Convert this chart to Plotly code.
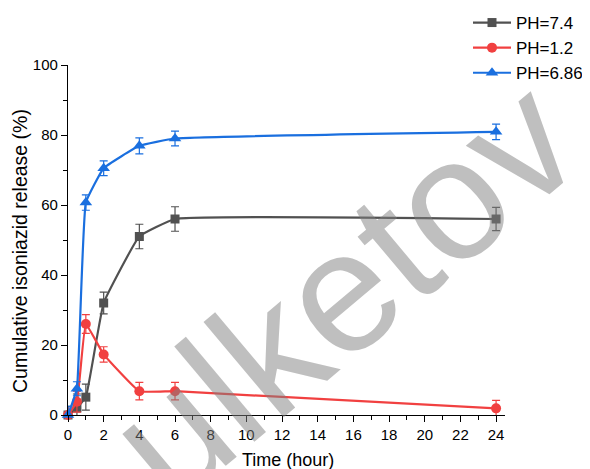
import plotly.graph_objects as go

time_h = [0, 0.5, 1, 2, 4, 6, 24]

ph74 = [0, 2, 5.1, 32, 51, 56, 56]
ph74_err = [2.5, 4, 3.7, 3.1, 3.5, 3.5, 3.3]

ph12 = [0, 3.8, 26, 17.3, 6.8, 6.8, 1.9]
ph12_err = [2, 3, 2.7, 2.2, 2.5, 2.5, 2.3]

ph686 = [0, 7.5, 60.7, 70.5, 76.9, 79, 80.9]
ph686_err = [2.5, 2, 2.2, 2.1, 2.3, 2.1, 2.2]

series_names = ["PH=7.4", "PH=1.2", "PH=6.86"]
x_ticks = list(range(0, 25, 2))
y_ticks = [0, 20, 40, 60, 80, 100]

FONT = "Arial, Liberation Sans, sans-serif"

styles = [
    ("#515151", "square", 9),
    ("#F14040", "circle", 10),
    ("#1A6FDF", "triangle-up", 11),
]

fig = go.Figure()
for name, ys, errs, (col, sym, sz) in zip(series_names, [ph74, ph12, ph686],
                                           [ph74_err, ph12_err, ph686_err], styles):
    fig.add_trace(go.Scatter(
        x=time_h, y=ys, name=name, mode="lines+markers",
        line=dict(color=col, width=2.2, shape="spline", smoothing=0.3),
        marker=dict(color=col, symbol=sym, size=sz),
        error_y=dict(type="data", array=errs, visible=True, color=col,
                     thickness=1.2, width=4),
        cliponaxis=False,
    ))

# watermark
fig.add_annotation(
    text="ulketov", xref="paper", yref="paper", x=(342 - 68) / 437, y=(415 - 290) / 350,
    xanchor="center", yanchor="middle",
    showarrow=False, textangle=-40,
    font=dict(family=FONT, size=172, color="rgba(128,128,128,0.5)"),
)

# axis titles
fig.add_annotation(
    text="Time (hour)", xref="paper", yref="paper",
    x=(288 - 68) / 437, y=-(460 - 415) / 350, xanchor="center", yanchor="middle",
    showarrow=False, font=dict(family=FONT, size=18, color="black"),
)
fig.add_annotation(
    text="Cumulative isoniazid release (%)", xref="paper", yref="paper",
    x=-(68 - 20) / 437, y=(415 - 251) / 350, xanchor="center", yanchor="middle",
    textangle=-90, showarrow=False, font=dict(family=FONT, size=19.5, color="black"),
)

axis_common = dict(
    showline=True, linecolor="black", linewidth=1.3, ticks="outside",
    ticklen=6, tickwidth=1.3, tickcolor="black", showgrid=False, zeroline=False,
    automargin=False,
    tickfont=dict(family=FONT, size=15, color="black"),
)

fig.update_xaxes(
    range=[0, 24.5], tickvals=x_ticks, ticktext=[str(v) for v in x_ticks],
    minor=dict(ticks="outside", ticklen=3.5, tickwidth=1.2, tickcolor="black", dtick=1),
    **axis_common,
)
fig.update_yaxes(
    range=[0, 100], tickvals=y_ticks, ticktext=[str(v) for v in y_ticks],
    minor=dict(ticks="outside", ticklen=3.5, tickwidth=1.2, tickcolor="black", dtick=10),
    **axis_common,
)

fig.update_layout(
    width=582, height=461,
    margin=dict(l=60, r=85, t=57, b=54, autoexpand=False),
    plot_bgcolor="white", paper_bgcolor="white",
    font=dict(family=FONT, size=15, color="black"),
    legend=dict(x=(468 - 68) / 437, y=(415 - 5) / 350, xanchor="left", yanchor="top",
                font=dict(family=FONT, size=17, color="black"),
                bgcolor="rgba(0,0,0,0)", tracegroupgap=0, itemwidth=38),
    showlegend=True,
)

fig.write_html("out.html")
